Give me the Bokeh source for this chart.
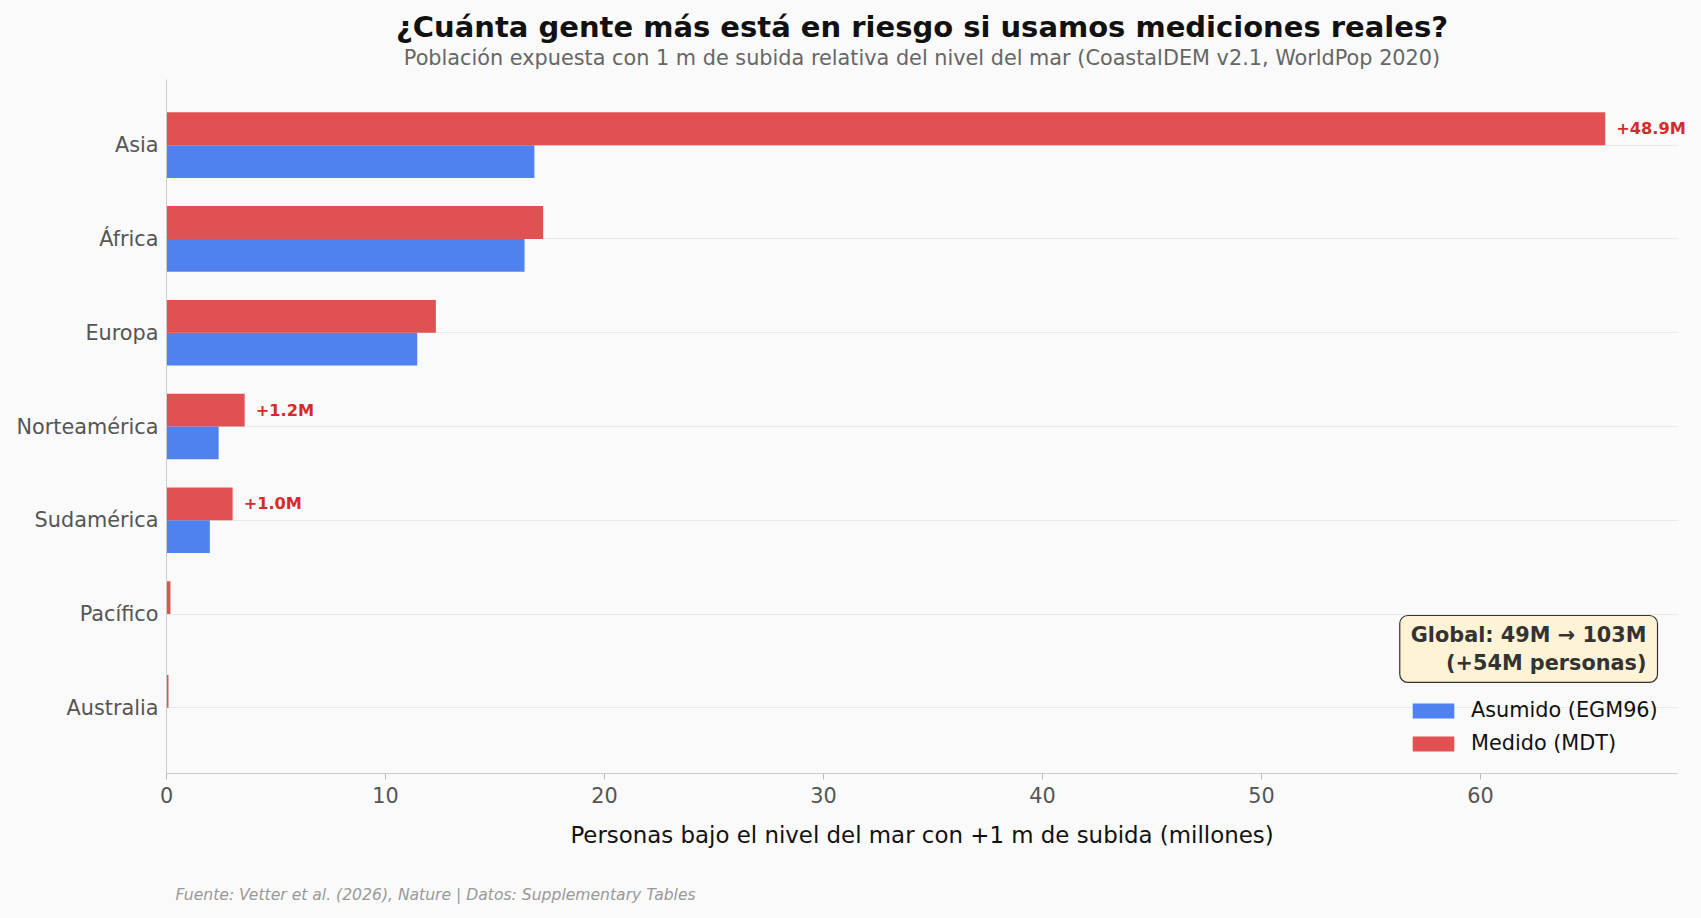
from bokeh.plotting import figure
from bokeh.models import Range1d, ColumnDataSource, Label, Legend, LegendItem, FixedTicker, Title
from bokeh.transform import dodge
from bokeh.core.properties import value
from bokeh.embed import file_html
from bokeh.resources import INLINE

# ---- data ----
regions = ["Asia", "África", "Europa", "Norteamérica", "Sudamérica", "Pacífico", "Australia"]
asumido = [16.8, 16.35, 11.45, 2.38, 1.98, 0.0, 0.0]
medido = [65.7, 17.2, 12.3, 3.57, 3.02, 0.18, 0.09]
bar_labels = ["+48.9M", "", "", "+1.2M", "+1.0M", "", ""]
x_ticks = [0, 10, 20, 30, 40, 50, 60]
legend_labels = ["Asumido (EGM96)", "Medido (MDT)"]
title_text = "¿Cuánta gente más está en riesgo si usamos mediciones reales?"
subtitle_text = "Población expuesta con 1 m de subida relativa del nivel del mar (CoastalDEM v2.1, WorldPop 2020)"
xlabel_text = "Personas bajo el nivel del mar con +1 m de subida (millones)"
source_text = "Fuente: Vetter et al. (2026), Nature | Datos: Supplementary Tables"
global_text = "Global: 49M → 103M\n(+54M personas)"

FONT = "DejaVu Sans"
BLUE = "#4f82ee"
RED = "#e25151"
BG = "#fafafa"

ys = list(range(len(regions)))
src = ColumnDataSource(dict(y=ys, region=regions, asumido=asumido, medido=medido, label=bar_labels))

p = figure(width=1701, height=918, output_backend="svg", toolbar_location=None,
           x_range=Range1d(0, 69), y_range=Range1d(6.7, -0.7),
           min_border_left=166, min_border_right=24, min_border_top=79, min_border_bottom=145,
           background_fill_color=BG, border_fill_color=BG, outline_line_color=None)

r_blue = p.hbar(y=dodge("y", 0.175), left=0, right="asumido", height=0.35, source=src,
                fill_color=BLUE, line_color=None)
r_red = p.hbar(y=dodge("y", -0.175), left=0, right="medido", height=0.35, source=src,
               fill_color=RED, line_color=None)

p.text(x="medido", y=dodge("y", -0.175), text="label", source=src, x_offset=11,
       text_align="left", text_baseline="middle", text_font=value(FONT),
       text_font_style="bold", text_font_size="16.2px", text_color="#d62a2a", level="overlay")

# axes
p.xaxis.ticker = FixedTicker(ticks=x_ticks)
p.yaxis.ticker = FixedTicker(ticks=ys)
p.yaxis.major_label_overrides = {i: r for i, r in enumerate(regions)}
for ax in (p.xaxis[0], p.yaxis[0]):
    ax.axis_line_color = "#cccccc"
    ax.major_tick_line_color = "#bbbbbb"
    ax.minor_tick_line_color = None
    ax.major_label_text_font = FONT
    ax.major_label_text_font_size = "20.8px"
    ax.major_label_text_color = "#555555"
p.xaxis.major_tick_in = 0
p.xaxis.major_tick_out = 6
p.xaxis.major_label_standoff = 7
p.yaxis.major_tick_line_color = None
p.yaxis.major_tick_in = 0
p.yaxis.major_tick_out = 0
p.yaxis.major_label_standoff = 8
p.xaxis.axis_label = xlabel_text
p.xaxis.axis_label_text_font = FONT
p.xaxis.axis_label_text_font_style = "normal"
p.xaxis.axis_label_text_font_size = "22.9px"
p.xaxis.axis_label_text_color = "#111111"
p.xaxis.axis_label_standoff = 16

p.xgrid.grid_line_color = None
p.ygrid.grid_line_color = "#e9e9e9"
p.ygrid.grid_line_width = 1

# titles
p.title.text = title_text
p.title.align = "center"
p.title.text_font = FONT
p.title.text_font_style = "bold"
p.title.text_font_size = "29px"
p.title.text_color = "#111111"
p.title.standoff = -20.8
p.add_layout(Title(text=subtitle_text, align="center", text_font=FONT, text_font_style="normal",
                   text_font_size="20.8px", text_color="#666666", standoff=20), "above")

# footnote: a thin spacer panel, then the note itself
p.add_layout(Title(text=" ", text_font_size="1px", standoff=39.6), "below")
p.add_layout(Title(text=source_text, align="left", offset=9, text_font=FONT, text_font_style="italic",
                   text_font_size="15.6px", text_color="#999999", standoff=-20), "below")

p.add_layout(Label(x=1491, y=158, x_units="screen", y_units="screen", text=global_text,
                   text_align="right", text_baseline="top", text_font=FONT,
                   text_font_style="bold", text_font_size="20.8px", text_color="#333333",
                   background_fill_color="#fff3d6", border_line_color="#333333",
                   border_line_width=1.2, border_radius=8, padding=(11, 7)))

legend = Legend(items=[LegendItem(label=legend_labels[0], renderers=[r_blue]),
                       LegendItem(label=legend_labels[1], renderers=[r_red])],
                location=(1241, 18), orientation="vertical", glyph_width=52, glyph_height=19,
                label_standoff=12, spacing=9, padding=0, margin=0,
                border_line_color=None, background_fill_alpha=0,
                label_text_font=FONT, label_text_font_size="20.8px", label_text_color="#111111")
p.add_layout(legend)

html = file_html(p, INLINE)
html = html.replace("<head>", "<head><style>html,body{background:#fafafa;}</style>", 1)
open("out.html", "w").write(html)
